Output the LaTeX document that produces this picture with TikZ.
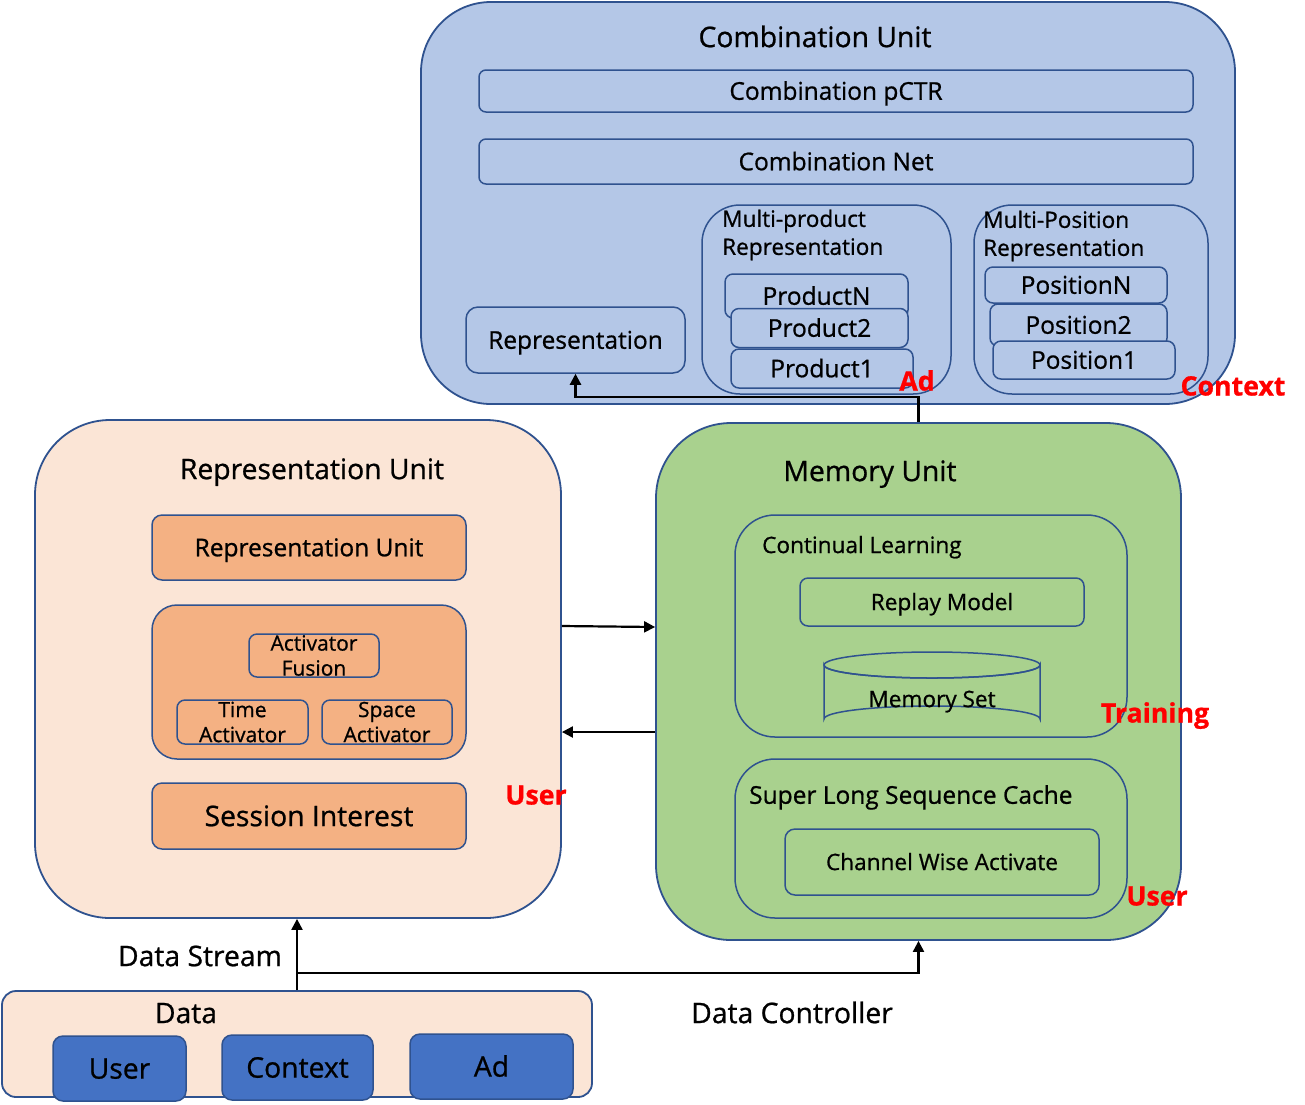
\documentclass[tikz,border=0pt]{standalone}
\usepackage{fontspec}
\setmainfont{Open Sans}[FakeBold=0.8]
\usetikzlibrary{arrows.meta}
\definecolor{bord}{HTML}{2F528F}
\definecolor{cblue}{HTML}{B4C7E7}
\definecolor{peach}{HTML}{FBE5D6}
\definecolor{orng}{HTML}{F4B183}
\definecolor{grn}{HTML}{A9D18E}
\definecolor{dblue}{HTML}{4472C4}
\definecolor{rd}{HTML}{FF0000}
\newcommand\szTitle{\fontsize{28.3}{34}\selectfont}
\newcommand\szBox{\fontsize{24.5}{29}\selectfont}
\newcommand\szSmall{\fontsize{22.6}{28}\selectfont}
\newcommand\szAct{\fontsize{21}{25}\selectfont}
\newcommand\szRed{\fontsize{26.7}{32}\selectfont\bfseries}
\begin{document}
\begin{tikzpicture}[x=1pt,y=-1pt,
  fT/.style={font=\szTitle, text height=20.2pt, text depth=0pt},
  fB/.style={font=\szBox, text height=17.5pt, text depth=0pt},
  fS/.style={font=\szSmall, text height=16.1pt, text depth=0pt},
  fR/.style={font=\szRed, text height=19pt, text depth=0pt},
  bx/.style={draw=bord, line width=1.5pt, inner sep=0pt, align=center, fB},
  outer/.style={draw=bord, line width=1.8pt, inner sep=0pt},
  sz/.style n args={2}{minimum width=#1, minimum height=#2},
  ttl/.style={fT, inner sep=0pt},
  lbl/.style={fS, inner sep=0pt},
  redl/.style={fR, text=rd, inner sep=0pt},
  arr/.style={draw=black, line width=2.2pt, -{Triangle[length=11pt,width=11pt]}}]
\useasboundingbox (0,0) rectangle (1305,1104);
\fill[white] (0,0) rectangle (1305,1104);

% ---------- Combination Unit ----------
\node[outer, fill=cblue, rounded corners=70pt, sz={814}{402}] (combU) at (828,203) {};
\node[ttl] (combT) at (815,37) {Combination Unit};
\node[bx, fill=cblue, rounded corners=7pt, sz={714}{42}] (pctr) at (836,91) {Combination pCTR};
\node[bx, fill=cblue, rounded corners=7pt, sz={714}{45}] (cnet) at (836,161.5) {Combination Net};
\node[bx, fill=cblue, rounded corners=12pt, sz={219}{66}] (repr) at (575.5,340) {Representation};

\node[bx, fill=cblue, rounded corners=38pt, sz={249}{189}] (mprod) at (826.5,299.5) {};
\node[font=\szSmall, inner sep=0pt, anchor=west, align=left] (mprodT) at (722,235) {Multi-product\\Representation};
\node[bx, fill=cblue, rounded corners=8pt, sz={183}{44}] (prodN) at (816.5,296) {ProductN};
\node[bx, fill=cblue, rounded corners=8pt, sz={177}{39}] (prod2) at (819.5,328) {Product2};
\node[bx, fill=cblue, rounded corners=8pt, sz={182}{39}] (prod1) at (822,368.5) {Product1};

\node[bx, fill=cblue, rounded corners=38pt, sz={234}{189}] (mpos) at (1091,299.5) {};
\node[font=\szSmall, inner sep=0pt, anchor=west, align=left] (mposT) at (983,236) {Multi-Position\\Representation};
\node[bx, fill=cblue, rounded corners=8pt, sz={182}{36}] (posN) at (1076,285) {PositionN};
\node[bx, fill=cblue, rounded corners=8pt, sz={177}{42}] (pos2) at (1078.5,325) {Position2};
\node[bx, fill=cblue, rounded corners=8pt, sz={182}{38}] (pos1) at (1084,360) {Position1};

\node[redl] (redAd) at (917,381) {Ad};
\node[redl] (redCtx) at (1233,386) {Context};

% ---------- Representation Unit ----------
\node[outer, fill=peach, rounded corners=75pt, sz={526}{498}] (repU) at (298,669) {};
\node[ttl] (repT) at (312,469) {Representation Unit};
\node[bx, fill=orng, rounded corners=10pt, sz={314}{65}] (riu) at (309,547.5) {Representation Unit};
\node[bx, fill=orng, rounded corners=25pt, sz={314}{154}] (actg) at (309,682) {};
\node[draw=bord, line width=1.5pt, inner sep=0pt, align=center, fill=orng, rounded corners=8pt, sz={130}{43}, font=\szAct] (afus) at (314,655.5) {Activator\\Fusion};
\node[draw=bord, line width=1.5pt, inner sep=0pt, align=center, fill=orng, rounded corners=8pt, sz={131}{44}, font=\szAct] (tact) at (242.5,722) {Time\\Activator};
\node[draw=bord, line width=1.5pt, inner sep=0pt, align=center, fill=orng, rounded corners=8pt, sz={130}{44}, font=\szAct] (sact) at (387,722) {Space\\Activator};
\node[bx, fill=orng, rounded corners=10pt, sz={314}{66}, fT] (sess) at (309,816) {Session Interest};
\node[redl] (redUser1) at (536,795) {User};

% ---------- Memory Unit ----------
\node[outer, fill=grn, rounded corners=75pt, sz={525}{517}] (memU) at (918.5,681.5) {};
\node[ttl] (memT) at (870,471) {Memory Unit};
\node[bx, fill=grn, rounded corners=40pt, sz={392}{222}] (cl) at (931,626) {};
\node[lbl, anchor=west] (clT) at (762,545) {Continual Learning};
\node[bx, fill=grn, rounded corners=8pt, sz={284}{48}, fS] (replay) at (942,602) {Replay Model};
\draw[draw=bord, line width=1.5pt, fill=grn]
  (824,665) -- (824,719) arc[start angle=180, end angle=360, x radius=108, y radius=13]
  -- (1040,665) arc[start angle=0, end angle=180, x radius=108, y radius=13] -- cycle;
\draw[draw=bord, line width=1.5pt] (932,665) ellipse[x radius=108, y radius=13];
\node[lbl] (memset) at (932,699) {Memory Set};
\node[redl] (redTrain) at (1155,713) {Training};

\node[bx, fill=grn, rounded corners=40pt, sz={392}{159}] (slc) at (931,838.5) {};
\node[anchor=west, fB, inner sep=0pt] (slcT) at (749,795) {Super Long Sequence Cache};
\node[bx, fill=grn, rounded corners=10pt, sz={314}{66}, fS] (cwa) at (942,862) {Channel Wise Activate};
\node[redl] (redUser2) at (1157,896) {User};

% ---------- Data ----------
\node[outer, fill=peach, rounded corners=14pt, sz={590}{106}] (data) at (297,1044) {};
\node[ttl] (dataT) at (186,1013) {Data};
\node[bx, fill=dblue, rounded corners=10pt, sz={133}{65}, fT] (duser) at (119.5,1068.5) {User};
\node[bx, fill=dblue, rounded corners=10pt, sz={151}{65}, fT] (dctx) at (297.5,1067.5) {Context};
\node[bx, fill=dblue, rounded corners=10pt, sz={163}{65}, fT] (dad) at (491.5,1066.5) {Ad};

\node[ttl] (dstream) at (200,956) {Data Stream};
\node[ttl] (dctrl) at (792,1013) {Data Controller};

% ---------- connectors ----------
\coordinate (split) at (297,973);
\draw[arr] (data.north) -- (data.north |- repU.south);
\draw[arr] (split) -| (memU.south);
\draw[arr] (memU.north) -- ++(0,-25) -| (repr.south);
\draw[arr] ([yshift=43pt]repU.east) -- ([yshift=54.5pt]memU.west);
\draw[arr] ([yshift=-50.5pt]memU.west) -- ([yshift=-63pt]repU.east);
\end{tikzpicture}
\end{document}
